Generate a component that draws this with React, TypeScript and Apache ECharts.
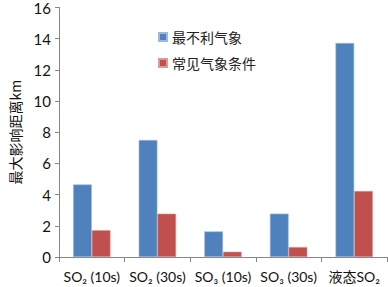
import React, { useEffect, useRef } from "react";
import * as echarts from "echarts";

const categories = ["SO₂ (10s)", "SO₂ (30s)", "SO₃ (10s)", "SO₃ (30s)", "液态SO₂"];
const seriesNames = ["最不利气象", "常见气象条件"];
const worstValues = [4.65, 7.5, 1.64, 2.78, 13.72];
const commonValues = [1.72, 2.78, 0.34, 0.64, 4.23];
const yTicks = { min: 0, max: 16, interval: 2 };
const yAxisName = "最大影响距离km";

const latin = "Lato, 'Noto Sans CJK SC', sans-serif";
const cjk = "'Noto Sans CJK SC', sans-serif";

export default function App() {
  const ref = useRef<HTMLDivElement>(null);
  useEffect(() => {
    if (!ref.current) return;
    const chart = echarts.init(ref.current, undefined, { renderer: "svg" });
    chart.setOption({
      animation: false,
      backgroundColor: "#ffffff",
      grid: { left: 53, top: 6, right: 1, bottom: 30, containLabel: false },
      legend: {
        orient: "vertical",
        left: 153,
        top: 25,
        itemWidth: 8,
        itemHeight: 8,
        itemGap: 12,
        icon: "rect",
        textStyle: { fontFamily: cjk, fontSize: 14, color: "#222" },
        data: seriesNames,
      },
      xAxis: {
        type: "category",
        data: categories,
        axisLine: { lineStyle: { color: "#868686", width: 1 } },
        axisTick: { show: true, length: 5, lineStyle: { color: "#868686" } },
        axisLabel: { fontFamily: latin, fontSize: 14, color: "#111", margin: 12, interval: 0 },
      },
      yAxis: {
        type: "value",
        min: yTicks.min,
        max: yTicks.max,
        interval: yTicks.interval,
        name: yAxisName,
        nameLocation: "middle",
        nameGap: 37,
        nameRotate: 90,
        nameTextStyle: { fontFamily: cjk, fontSize: 14, color: "#111" },
        axisLine: { show: true, lineStyle: { color: "#868686", width: 1 } },
        axisTick: { show: true, length: 4, lineStyle: { color: "#868686" } },
        axisLabel: { fontFamily: latin, fontSize: 15, color: "#111", margin: 8 },
        splitLine: { show: false },
      },
      series: [
        {
          name: seriesNames[0],
          type: "bar",
          data: worstValues,
          barGap: "0%",
          barCategoryGap: "43%",
          itemStyle: { color: "#4F81BD", borderColor: "#9DB9DE", borderWidth: 0.6 },
        },
        {
          name: seriesNames[1],
          type: "bar",
          data: commonValues,
          barGap: "0%",
          barCategoryGap: "43%",
          itemStyle: { color: "#C0504D", borderColor: "#DE9A98", borderWidth: 0.6 },
        },
      ],
    });
    return () => chart.dispose();
  }, []);
  return <div ref={ref} style={{ width: 388, height: 287, position: "absolute", left: 0, top: 0 }} />;
}
